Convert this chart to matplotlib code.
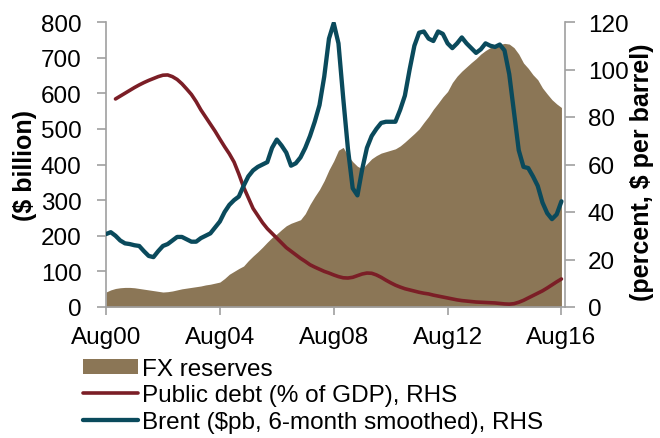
import numpy as np
import matplotlib
matplotlib.use("Agg")
import matplotlib.pyplot as plt

plt.rcParams['font.family'] = ['Liberation Sans', 'DejaVu Sans']

# months since Aug 2000, every 2 months
months = np.arange(0, 194, 2)

# FX reserves, $ billion
fx_reserves = [42, 48, 52, 54, 55, 55, 54, 52, 50, 48, 46, 44, 42, 43, 45, 48, 51, 53, 55, 57,
               59, 62, 64, 67, 70, 80, 92, 100, 108, 115, 130, 143, 155, 168, 182, 195, 205, 217,
               228, 235, 240, 245, 262, 288, 310, 330, 355, 385, 410, 440, 448, 425, 408, 395, 388,
               402, 416, 425, 432, 436, 440, 444, 452, 463, 475, 487, 500, 518, 535, 555, 572, 590,
               605, 630, 648, 662, 674, 686, 697, 710, 720, 728, 733, 737, 740, 738, 728, 710, 685,
               670, 652, 638, 615, 598, 582, 570, 560]

# public debt, % of GDP
public_debt = [np.nan, np.nan, 87.6, 88.8, 90, 91.2, 92.4, 93.5, 94.5, 95.4, 96.2, 97, 97.6, 97.7,
               97, 95.8, 94, 91.8, 89.5, 86.5, 83, 80, 77, 74, 70.7, 67.5, 64.5, 61, 56, 50.5, 46,
               41.5, 38.5, 35.5, 33, 31, 29, 27, 25, 23.5, 22, 20.5, 19.2, 17.8, 16.8, 15.9, 15,
               14.3, 13.5, 12.8, 12.3, 12.2, 12.5, 13.2, 13.9, 14.3, 14.2, 13.5, 12.5, 11.3, 10.2,
               9.2, 8.4, 7.7, 7.2, 6.7, 6.2, 5.8, 5.5, 5.0, 4.6, 4.2, 3.8, 3.4, 3.0, 2.7, 2.5, 2.3,
               2.1, 2.0, 1.9, 1.8, 1.7, 1.5, 1.3, 1.2, 1.4, 2.0, 2.8, 3.8, 4.8, 5.8, 6.8, 8.0, 9.3,
               10.6, 11.8]

# Brent, $ per barrel, 6-month smoothed
brent = [30.7, 31.5, 30, 28, 26.8, 26.5, 26, 25.7, 23.5, 21.5, 21, 23.5, 25.7, 26.5, 28, 29.5,
         29.5, 28.5, 27.5, 27.5, 29, 30, 31, 33.5, 36, 40, 43, 45, 46.5, 51, 55, 57.5, 59, 60, 61,
         67, 70.5, 68, 65, 59.5, 60.5, 63, 67, 72, 78, 85, 97, 113, 119.5, 111, 88, 66.5, 50, 47,
         58, 67, 72, 75, 77.5, 78, 78, 78, 83, 89, 100, 110, 115.5, 116, 113, 112, 116, 115, 111,
         109, 111, 113.5, 111, 109, 107, 108.5, 111, 110, 109.5, 110.5, 108, 98, 82, 66, 59, 58.5,
         55, 51, 44, 39.5, 37, 39, 44.5]

tick_months = [0, 48, 96, 144, 192]
tick_labels = ['Aug00', 'Aug04', 'Aug08', 'Aug12', 'Aug16']

fx_color = '#8B7656'
debt_color = '#7B1E26'
brent_color = '#0A4A5C'
spine_color = '#A0A0A0'
fs = 17.5
fs_lab = 18

fig = plt.figure(figsize=(6.6, 4.39), dpi=100)
ax = fig.add_axes([106 / 660, 1 - 308 / 439, (565 - 106) / 660, (308 - 23) / 439])
ax2 = ax.twinx()

ax.fill_between(months, 0, fx_reserves, color=fx_color, lw=0, label='FX reserves')
l1, = ax2.plot(months, public_debt, color=debt_color, lw=2.6, solid_capstyle='round',
               label='Public debt (% of GDP), RHS')
l2, = ax2.plot(months, brent, color=brent_color, lw=3.1, solid_capstyle='round',
               label='Brent ($pb, 6-month smoothed), RHS')

ax.set_xlim(0, 193.5)
ax.set_ylim(0, 800)
ax2.set_ylim(0, 120)
ax.set_yticks(range(0, 801, 100))
ax2.set_yticks(range(0, 121, 20))
ax.set_xticks(tick_months)
ax.set_xticklabels(tick_labels)

for a in (ax, ax2):
    a.spines['top'].set_visible(False)
    for s in ('left', 'right', 'bottom'):
        a.spines[s].set_color(spine_color)
        a.spines[s].set_linewidth(1.2)
    a.tick_params(axis='both', labelsize=fs, colors=spine_color, labelcolor='black',
                  width=1.2, direction='out')
ax.tick_params(axis='y', length=6.5, pad=11)
ax2.tick_params(axis='y', length=7, pad=9.5)
ax.tick_params(axis='x', length=5.5, pad=8)
ax.spines['right'].set_visible(False)
ax2.spines['left'].set_visible(False)
ax2.spines['bottom'].set_visible(False)

ax.set_ylabel('($ billion)', fontsize=fs_lab, fontweight='bold')
ax2.set_ylabel('(percent, $ per barrel)', fontsize=fs_lab, fontweight='bold')
ax.yaxis.set_label_coords((37 - 106) / 459, 0.5)
ax2.yaxis.set_label_coords((630 - 106) / 459, 0.477)

handles = [ax.collections[0], l1, l2]
leg = fig.legend(handles, [h.get_label() for h in handles], loc='upper left',
                 bbox_to_anchor=(83 / 660, 1 - 359 / 439), frameon=False, fontsize=fs,
                 borderpad=0, borderaxespad=0, handlelength=2.25, handletextpad=0.17,
                 labelspacing=0.18, handleheight=0.55)

fig.savefig('out.png', dpi=100)
